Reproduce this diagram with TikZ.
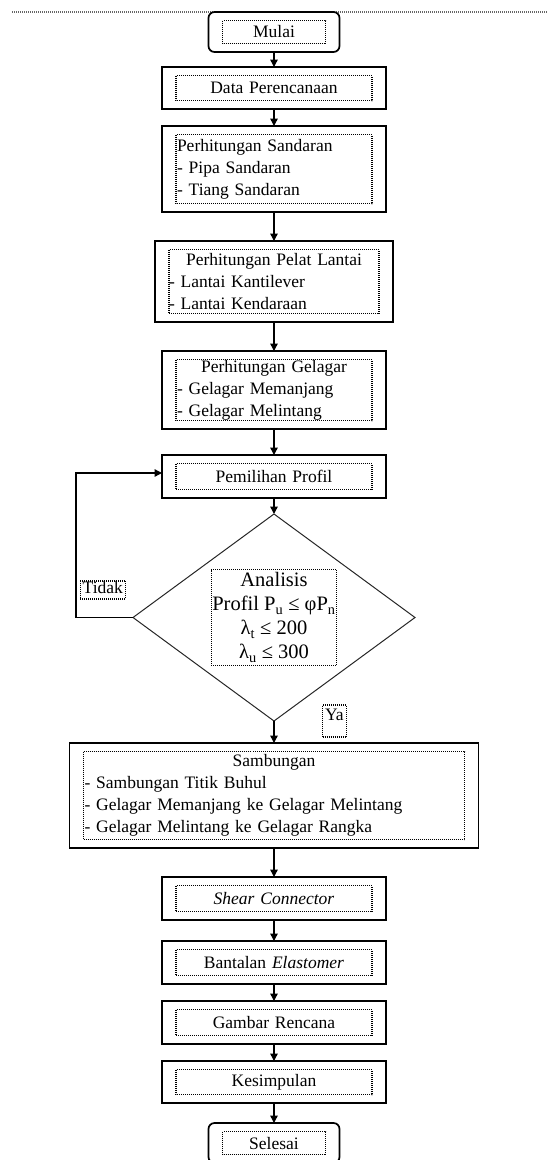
\documentclass[tikz,border=0pt]{standalone}
\usepackage{fontspec}
\setmainfont{Liberation Serif}
\usetikzlibrary{shapes.geometric, arrows.meta, positioning, calc}
\setlength{\parindent}{0pt}

\begin{document}
\begin{tikzpicture}[x=1pt, y=1pt,
  font=\fontsize{17.5}{22}\selectfont,
  dotline/.style={line width=1.1pt, dash pattern=on 1pt off 1pt, sharp corners},
  proc/.style={draw, line width=1.7pt, outer sep=0pt, minimum width=224pt, minimum height=43pt,
    inner xsep=15pt, text width=194pt, align=center,
    path picture={\draw[dotline] ([shift={(14pt,-8.5pt)}]path picture bounding box.north west)
      rectangle ([shift={(-14pt,8.5pt)}]path picture bounding box.south east);}},
  term/.style={proc, rounded corners=6pt, minimum width=131pt, minimum height=40pt, text width=101pt},
  cond/.style={diamond, draw=black!85, line width=1pt, outer sep=0pt, aspect=1.36,
    minimum width=282pt, minimum height=207pt, inner sep=0pt},
  lbl/.style={draw, dotline, inner xsep=2.5pt, inner ysep=1pt},
  arr/.style={-{Triangle[length=7.5pt,width=7.5pt]}, line width=1.4pt}]
  \useasboundingbox (0,0) rectangle (547,-1160);
  \draw[dotline, black!60] (12,-12) -- (547,-12);

  \node[term] (mulai) at (274,-32) {Mulai};
  \node[proc, below=15pt of mulai, minimum height=42pt] (data) {Data Perencanaan};
  \node[proc, below=17pt of data, minimum height=86pt, align=left] (sandaran)
    {Perhitungan Sandaran\\- Pipa Sandaran\\- Tiang Sandaran};
  \node[proc, below=29pt of sandaran, minimum width=238pt, text width=210pt, inner xsep=14pt,
    minimum height=81pt, align=left] (pelat)
    {{\centering Perhitungan Pelat Lantai\par}- Lantai Kantilever\\- Lantai Kendaraan};
  \node[proc, below=29pt of pelat, minimum height=78pt, align=left] (gelagar)
    {{\centering Perhitungan Gelagar\par}- Gelagar Memanjang\\- Gelagar Melintang};
  \node[proc, below=26pt of gelagar] (pilih) {Pemilihan Profil};
  \node[cond, below=16pt of pilih] (cek) {};
  \node[draw, dotline, minimum width=125pt, minimum height=96pt, inner sep=1pt, align=center,
    font=\fontsize{20.5}{24}\selectfont] (cek-txt) at (cek)
    {Analisis\\Profil P\textsubscript{u} ≤ φP\textsubscript{n}\\λ\textsubscript{t} ≤ 200\\λ\textsubscript{u} ≤ 300};
  \node[proc, below=22pt of cek, minimum width=409pt, text width=379pt, minimum height=105pt,
    align=left] (sambung)
    {{\centering Sambungan\par}- Sambungan Titik Buhul\\- Gelagar Memanjang ke Gelagar Melintang\\- Gelagar Melintang ke Gelagar Rangka};
  \node[proc, below=29pt of sambung] (shear) {\textit{Shear Connector}};
  \node[proc, below=21pt of shear] (bantalan) {Bantalan \textit{Elastomer}};
  \node[proc, below=17pt of bantalan] (gambar) {Gambar Rencana};
  \node[proc, below=17pt of gambar, minimum height=42pt] (simpul) {Kesimpulan};
  \node[term, below=20pt of simpul] (selesai) {Selesai};

  \node[lbl, text height=12pt, text depth=4pt, above left=18pt and 7pt of cek.west] (tidak) {Tidak};
  \node[lbl, text height=14pt, text depth=16pt, right=48pt of cek.south] (ya) {Ya};

  \draw[arr] (mulai.south) -- (data.north);
  \draw[arr] (data.south) -- (sandaran.north);
  \draw[arr] (sandaran.south) -- (pelat.north);
  \draw[arr] (pelat.south) -- (gelagar.north);
  \draw[arr] (gelagar.south) -- (pilih.north);
  \draw[arr] (pilih.south) -- (cek.north);
  \draw[arr] (cek.west) -- ++(-57pt,0) |- ([yshift=3.5pt]pilih.west);
  \draw[arr] (cek.south) -- (sambung.north);
  \draw[arr] (sambung.south) -- (shear.north);
  \draw[arr] (shear.south) -- (bantalan.north);
  \draw[arr] (bantalan.south) -- (gambar.north);
  \draw[arr] (gambar.south) -- (simpul.north);
  \draw[arr] (simpul.south) -- (selesai.north);
\end{tikzpicture}
\end{document}
